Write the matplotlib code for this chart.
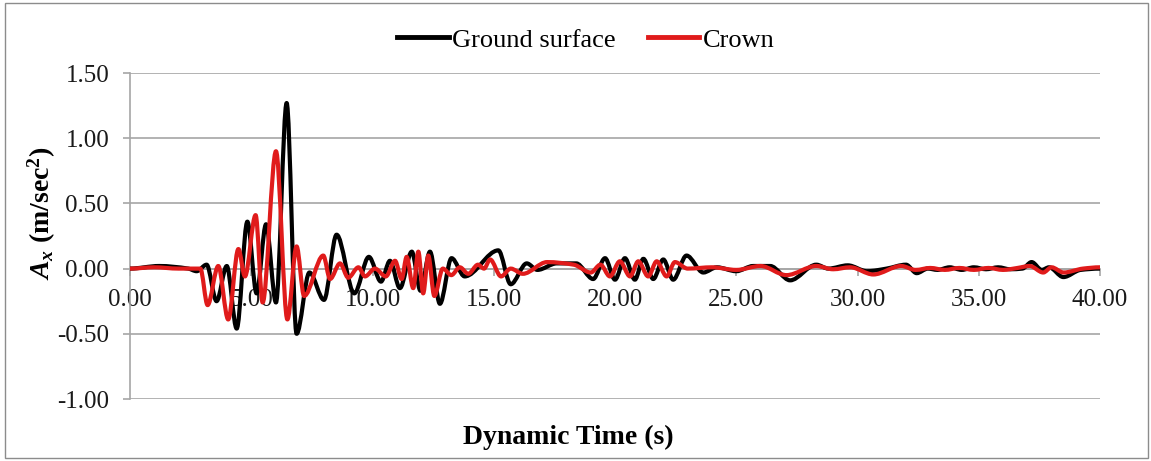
import numpy as np
import matplotlib
matplotlib.use("Agg")
import matplotlib.pyplot as plt
from matplotlib.path import Path
from matplotlib.patches import PathPatch, Rectangle
from matplotlib.lines import Line2D
from matplotlib.ticker import FormatStrFormatter

# ---------------- data (peaks / troughs) ----------------
ground_t = [0.0, 1.2, 2.4, 2.75, 3.16, 3.57, 3.99, 4.40, 4.84, 5.22, 5.61, 6.02,
            6.46, 6.87, 7.40, 8.00, 8.52, 9.25, 9.85, 10.35, 10.72, 11.13, 11.62,
            11.98, 12.37, 12.78, 13.26, 13.80, 15.19, 15.70, 16.36, 16.80, 17.60,
            18.40, 19.10, 19.59, 20.00, 20.41, 20.82, 21.17, 21.58, 21.99, 22.40,
            22.95, 23.64, 24.20, 25.00, 25.70, 26.40, 27.22, 28.30, 28.80, 29.60,
            30.40, 31.20, 32.00, 32.44, 32.90, 33.30, 33.80, 34.30, 34.80, 35.30,
            35.80, 36.30, 36.80, 37.18, 37.60, 37.90, 38.49, 39.20, 40.00]
ground_a = [0.00, 0.02, 0.00, -0.02, 0.03, -0.25, 0.02, -0.46, 0.36, -0.19, 0.34, -0.26,
            1.27, -0.50, -0.03, -0.24, 0.26, -0.19, 0.09, -0.10, 0.06, -0.15, 0.13,
            -0.17, 0.13, -0.27, 0.08, -0.06, 0.14, -0.12, 0.04, -0.01, 0.04,
            0.04, -0.08, 0.08, -0.085, 0.08, -0.085, 0.075, -0.08, 0.07, -0.085,
            0.10, -0.03, 0.01, -0.02, 0.02, 0.02, -0.09, 0.03, 0.00, 0.025,
            -0.02, 0.00, 0.03, -0.035, 0.00, -0.01, 0.01, -0.01, 0.01, -0.005,
            0.01, -0.005, 0.00, 0.05, -0.01, 0.01, -0.065, -0.01, 0.00]

crown_t = [0.0, 1.0, 2.0, 2.9, 3.20, 3.64, 4.05, 4.47, 4.74, 5.18, 5.47, 6.02,
           6.49, 6.87, 7.18, 7.97, 8.25, 8.66, 9.00, 9.42, 9.69, 10.10, 10.55,
           10.93, 11.20, 11.41, 11.68, 11.89, 12.09, 12.30, 12.55, 12.90, 13.25,
           13.60, 13.95, 14.35, 14.60, 14.85, 15.30, 15.70, 16.20, 17.20, 18.30,
           19.00, 19.40, 19.79, 20.20, 20.62, 20.96, 21.37, 21.72, 22.13, 22.47,
           23.00, 24.00, 25.00, 26.00, 27.07, 28.30, 29.00, 29.70, 30.65, 31.80,
           32.40, 33.00, 33.60, 34.20, 34.80, 35.40, 36.00, 36.60, 37.10, 37.66,
           38.00, 38.50, 39.30, 40.00]
crown_a = [0.00, 0.01, 0.00, 0.00, -0.28, 0.02, -0.39, 0.15, -0.06, 0.41, -0.26, 0.90,
           -0.39, 0.17, -0.21, 0.10, -0.08, 0.04, -0.07, 0.01, -0.06, 0.00, -0.06,
           0.06, -0.08, 0.09, -0.15, 0.13, -0.19, 0.10, -0.21, 0.00, -0.05,
           0.01, -0.04, 0.03, 0.00, 0.07, -0.06, 0.00, -0.04, 0.05, 0.03,
           -0.03, 0.03, -0.06, 0.056, -0.06, 0.056, -0.06, 0.056, -0.06, 0.05,
           0.00, 0.01, -0.01, 0.02, -0.05, 0.02, -0.005, 0.01, -0.045, 0.02,
           -0.01, 0.005, -0.01, 0.005, -0.01, 0.005, -0.01, 0.005, 0.02, -0.03,
           0.01, -0.03, 0.00, 0.01]

series_names = ["Ground surface", "Crown"]
series_colors = ["#000000", "#E01B1B"]
x_ticks = [0, 5, 10, 15, 20, 25, 30, 35, 40]
y_ticks = [-1.0, -0.5, 0.0, 0.5, 1.0, 1.5]

# ---------------- styling ----------------
plt.rcParams["font.family"] = ["Liberation Serif", "DejaVu Serif"]
plt.rcParams["mathtext.fontset"] = "custom"
plt.rcParams["mathtext.rm"] = "Liberation Serif:bold"
plt.rcParams["mathtext.bf"] = "Liberation Serif:bold"
plt.rcParams["mathtext.it"] = "Liberation Serif:bold:italic"

W, H = 1151, 461
fig = plt.figure(figsize=(W / 100, H / 100), dpi=100)
ax = fig.add_axes([130 / W, 1 - 399 / H, (1100 - 130) / W, (399 - 73) / H])


def smooth_path(t, v):
    """Smoothed-line rendering (like a spreadsheet's smoothed line) as cubic Bezier."""
    t = np.asarray(t, float)
    v = np.asarray(v, float)
    n = len(t)
    h = np.diff(t)
    delta = np.diff(v) / h
    d = np.zeros(n)
    for k in range(1, n - 1):
        if delta[k - 1] * delta[k] > 0:
            w1 = 2 * h[k] + h[k - 1]
            w2 = h[k] + 2 * h[k - 1]
            d[k] = (w1 + w2) / (w1 / delta[k - 1] + w2 / delta[k])
    verts = [(t[0], v[0])]
    codes = [Path.MOVETO]
    for k in range(n - 1):
        verts += [(t[k] + h[k] / 3, v[k] + d[k] * h[k] / 3),
                  (t[k + 1] - h[k] / 3, v[k + 1] - d[k + 1] * h[k] / 3),
                  (t[k + 1], v[k + 1])]
        codes += [Path.CURVE4] * 3
    return Path(verts, codes)


for (tt, vv), col in zip([(ground_t, ground_a), (crown_t, crown_a)], series_colors):
    patch = PathPatch(smooth_path(tt, vv), fill=False, edgecolor=col, lw=3.0,
                      joinstyle="round", capstyle="round", zorder=3)
    ax.add_patch(patch)

ax.set_xlim(0, 40)
ax.set_ylim(-1.0, 1.5)
ax.set_xticks(x_ticks)
ax.set_yticks(y_ticks)
ax.xaxis.set_major_formatter(FormatStrFormatter("%.2f"))
ax.yaxis.set_major_formatter(FormatStrFormatter("%.2f"))

grid_col = "#A6A6A6"
ax.yaxis.grid(True, color=grid_col, lw=1.2, zorder=0)
ax.set_axisbelow(True)
for s in ["top", "right"]:
    ax.spines[s].set_visible(False)
ax.spines["bottom"].set_position(("data", 0))
ax.spines["bottom"].set_color(grid_col)
ax.spines["left"].set_color(grid_col)
ax.spines["bottom"].set_linewidth(1.2)
ax.spines["left"].set_linewidth(1.2)
ax.tick_params(axis="both", colors=grid_col, labelcolor="#1a1a1a",
               labelsize=18, length=5, width=1.2, direction="out", pad=10)

# legend
handles = [Line2D([], [], color=c, lw=3.5) for c in series_colors]
fig.legend(handles, series_names, loc="center", bbox_to_anchor=(586 / W, 1 - 40 / H),
           ncol=2, frameon=False, fontsize=19, handlelength=1.95,
           handletextpad=0.15, columnspacing=1.2)

# axis titles
fig.text(568 / W, 1 - 437 / H, "Dynamic Time (s)", ha="center", va="center",
         fontsize=20, fontweight="bold")
fig.text(42 / W, 1 - 213 / H, r"$A_x$ (m/sec$^2$)", ha="center", va="center",
         rotation=90, fontsize=20, fontweight="bold")

# chart-area border
fig.patches.append(Rectangle((5 / W, 3 / H), (1148 - 5) / W, (458 - 3) / H,
                             transform=fig.transFigure, fill=False,
                             edgecolor="#8C8C8C", lw=1.0))

fig.savefig("out.png", dpi=100)
